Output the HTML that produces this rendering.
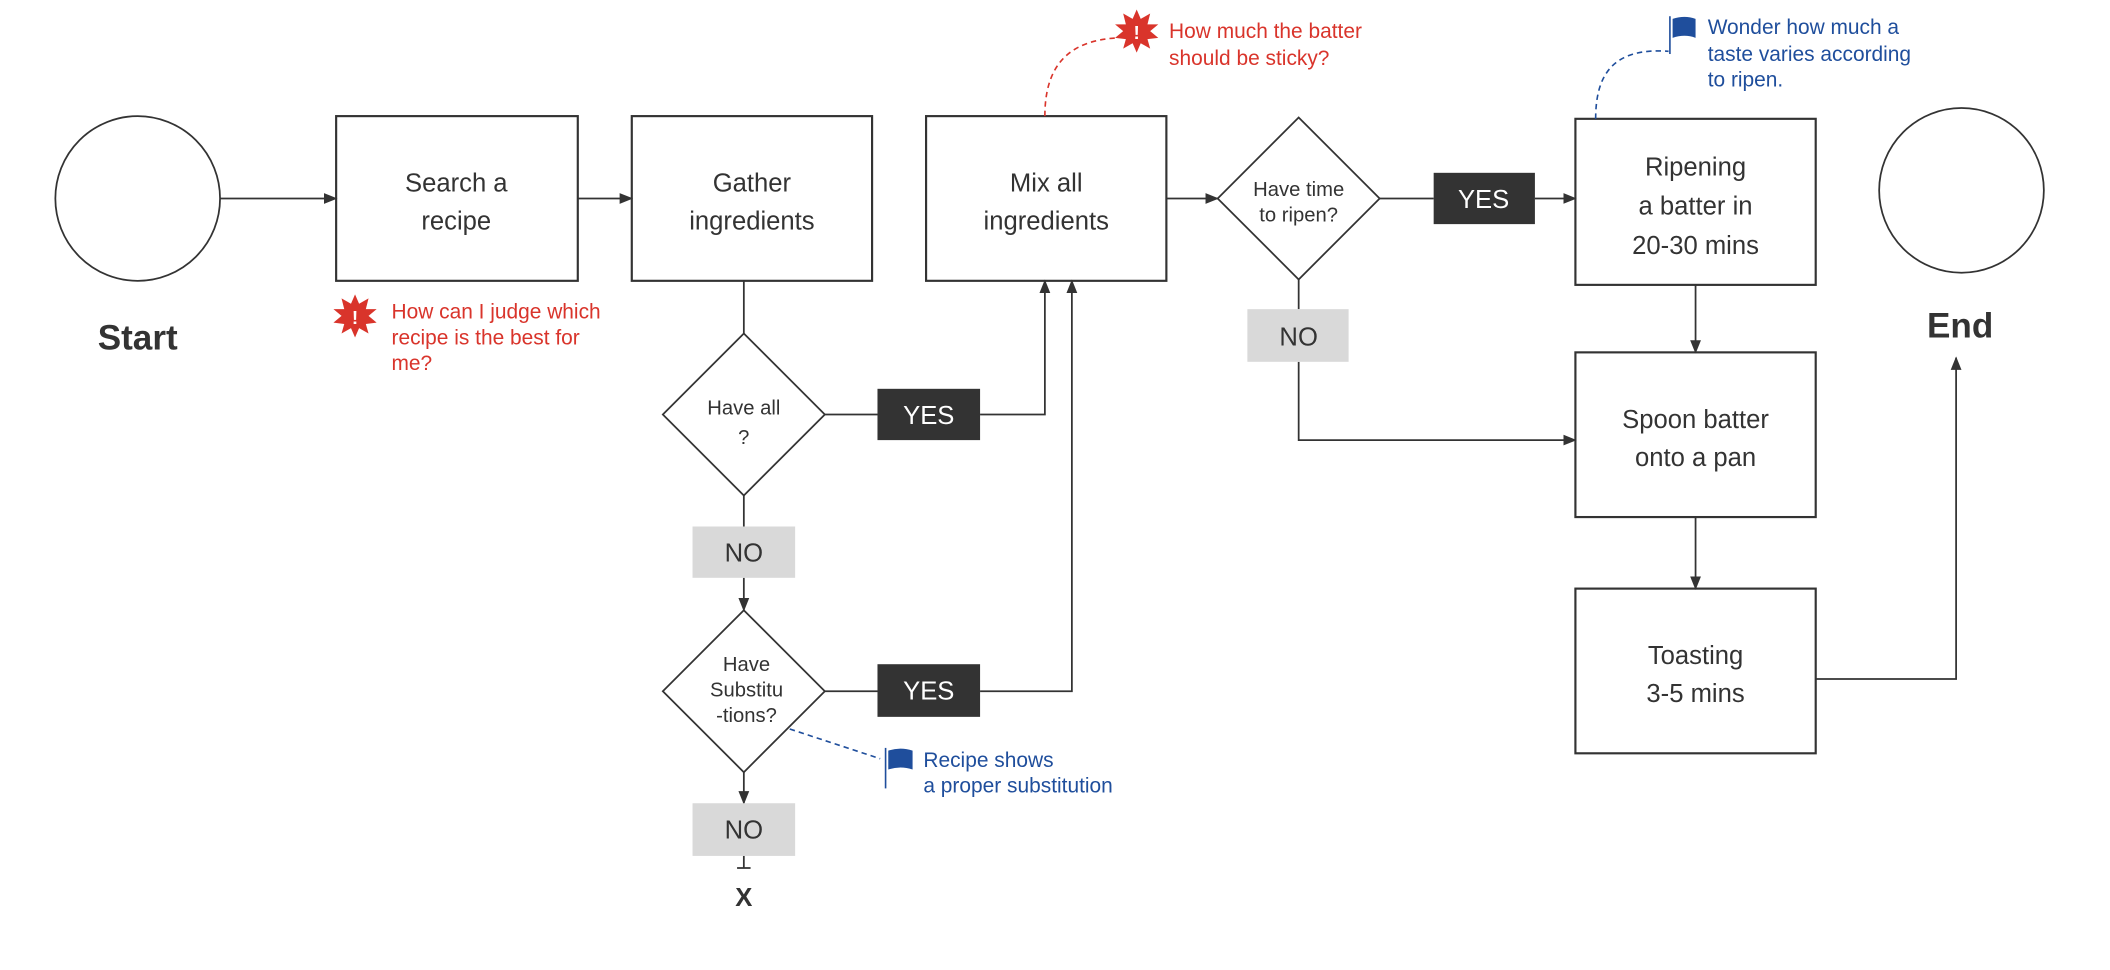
<!DOCTYPE html>
<html><head><meta charset="utf-8"><style>html,body{margin:0;padding:0;background:#fff}svg{display:block}text{font-family:"Liberation Sans Narrow","Liberation Sans",sans-serif}</style></head>
<body>
<svg width="2110" height="970" viewBox="0 0 1563 718.5" xmlns="http://www.w3.org/2000/svg">
<defs><marker id="a" markerWidth="10" markerHeight="10" refX="9" refY="5" orient="auto" markerUnits="userSpaceOnUse"><path d="M0,1 L10,5 L0,9 z" fill="#333"/></marker></defs>
<g fill="none" stroke="#333" stroke-width="1.3">
<circle cx="102" cy="147" r="61"/>
<circle cx="1453" cy="141" r="61"/>
<rect x="249" y="86" width="179" height="122" stroke-width="1.6"/>
<rect x="468" y="86" width="178" height="122" stroke-width="1.6"/>
<rect x="686" y="86" width="178" height="122" stroke-width="1.6"/>
<rect x="1167" y="88" width="178" height="123" stroke-width="1.6"/>
<rect x="1167" y="261" width="178" height="122" stroke-width="1.6"/>
<rect x="1167" y="436" width="178" height="122" stroke-width="1.6"/>
<path d="M962,87 L1022,147 L962,207 L902,147 Z"/>
<path d="M551,247 L611,307 L551,367 L491,307 Z"/>
<path d="M551,452 L611,512 L551,572 L491,512 Z"/>
<path d="M163,147 H249" marker-end="url(#a)"/>
<path d="M428,147 H468" marker-end="url(#a)"/>
<path d="M864,147 H902" marker-end="url(#a)"/>
<path d="M1022,147 H1062"/>
<path d="M1137,147 H1167" marker-end="url(#a)"/>
<path d="M962,207 V229"/>
<path d="M962,268 V326 H1167" marker-end="url(#a)"/>
<path d="M1256,211 V261" marker-end="url(#a)"/>
<path d="M1256,383 V436" marker-end="url(#a)"/>
<path d="M1345,503 H1449 V265" marker-end="url(#a)"/>
<path d="M551,208 V247"/>
<path d="M611,307 H650"/>
<path d="M726,307 H774 V208" marker-end="url(#a)"/>
<path d="M551,367 V390"/>
<path d="M551,428 V452" marker-end="url(#a)"/>
<path d="M611,512 H650"/>
<path d="M726,512 H794 V208" marker-end="url(#a)"/>
<path d="M551,572 V595" marker-end="url(#a)"/>
<path d="M551,634 V643 M546,643 H556"/>
</g>
<g fill="none" stroke-dasharray="4,3" stroke-width="1.2">
<path d="M774,86 C774,50 790,30 828,28" stroke="#d9342b"/>
<path d="M1182,88 C1182,55 1195,35 1236,38" stroke="#1f4e9c"/>
<path d="M585,540 L652,562" stroke="#1f4e9c"/>
</g>
<rect x="1062" y="128" width="75" height="38" fill="#333"/>
<rect x="650" y="288" width="76" height="38" fill="#333"/>
<rect x="650" y="492" width="76" height="39" fill="#333"/>
<rect x="924" y="229" width="75" height="39" fill="#d9d9d9"/>
<rect x="513" y="390" width="76" height="38" fill="#d9d9d9"/>
<rect x="513" y="595" width="76" height="39" fill="#d9d9d9"/>
<g font-size="19" fill="#333" text-anchor="middle">
<text x="338" y="142">Search a</text><text x="338" y="170">recipe</text>
<text x="557" y="142">Gather</text><text x="557" y="170">ingredients</text>
<text x="775" y="142">Mix all</text><text x="775" y="170">ingredients</text>
<text x="1256" y="130">Ripening</text><text x="1256" y="159">a batter in</text><text x="1256" y="188">20-30 mins</text>
<text x="1256" y="317">Spoon batter</text><text x="1256" y="345">onto a pan</text>
<text x="1256" y="492">Toasting</text><text x="1256" y="520">3-5 mins</text>
<text x="1099" y="154" fill="#fff">YES</text>
<text x="688" y="314" fill="#fff">YES</text>
<text x="688" y="518" fill="#fff">YES</text>
<text x="962" y="256">NO</text>
<text x="551" y="416">NO</text>
<text x="551" y="621">NO</text>
<text x="551" y="671" font-weight="bold">X</text>
</g>
<g font-size="15" fill="#333" text-anchor="middle">
<text x="962" y="145">Have time</text><text x="962" y="164">to ripen?</text>
<text x="551" y="307">Have all</text><text x="551" y="329">?</text>
<text x="553" y="497">Have</text><text x="553" y="516">Substitu</text><text x="553" y="535">-tions?</text>
</g>
<text x="102" y="259" font-size="26" font-weight="bold" fill="#333" text-anchor="middle">Start</text>
<text x="1452" y="250" font-size="26" font-weight="bold" fill="#333" text-anchor="middle">End</text>
<g font-size="15.5" fill="#d9342b">
<text x="290" y="236">How can I judge which</text><text x="290" y="255">recipe is the best for</text><text x="290" y="274">me?</text>
<text x="866" y="28">How much the batter</text><text x="866" y="48">should be sticky?</text>
</g>
<g font-size="15.5" fill="#1f4e9c">
<text x="1265" y="25">Wonder how much a</text><text x="1265" y="45">taste varies according</text><text x="1265" y="64">to ripen.</text>
<text x="684" y="568">Recipe shows</text><text x="684" y="587">a proper substitution</text>
</g>
<g fill="#d9342b">
<polygon points="263,218 266,225 273,221 271,229 279,229 273,234 279,239 271,240 273,247 266,243 263,250 260,243 253,247 255,240 247,239 253,234 247,229 255,229 253,221 260,225"/>
<polygon points="842,7 845,14 852,10 850,18 858,18 852,23 858,28 850,29 852,36 845,32 842,39 839,32 832,36 834,29 826,28 832,23 826,18 834,18 832,10 839,14"/>
</g>
<g fill="#fff" font-size="14" font-weight="bold" text-anchor="middle"><text x="263" y="240">!</text><text x="842" y="29">!</text></g>
<g fill="#1f4e9c" stroke="#1f4e9c" stroke-width="1.2">
<path d="M1237,12 V40" fill="none"/><path d="M1239,14 Q1248,11 1256,14 V28 Q1248,25 1239,28 Z" stroke="none"/>
<path d="M656,554 V584" fill="none"/><path d="M658,556 Q667,553 676,556 V570 Q667,567 658,570 Z" stroke="none"/>
</g>
</svg>
</body></html>
